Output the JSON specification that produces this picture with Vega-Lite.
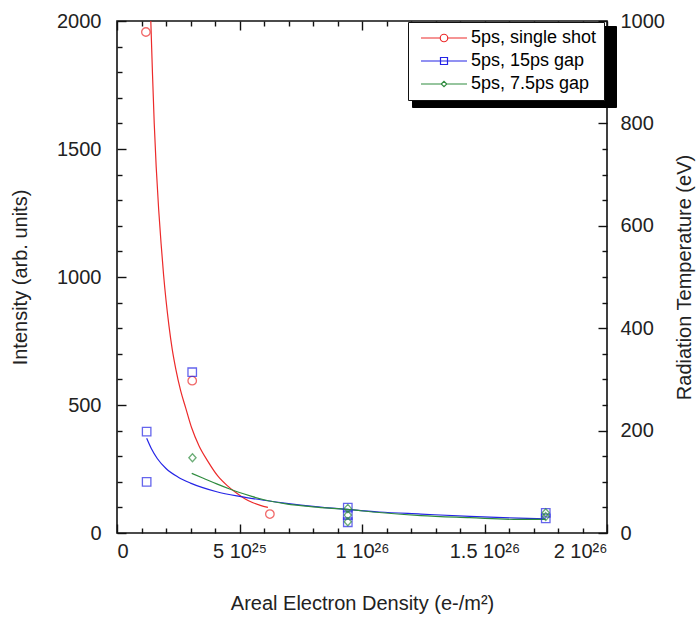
{
  "$schema": "https://vega.github.io/schema/vega-lite/v6.json",
  "width": 490,
  "height": 512,
  "autosize": "none",
  "padding": {"left": 117, "top": 21, "right": 92, "bottom": 84},
  "background": "white",
  "config": {
    "view": {"stroke": "#111", "strokeWidth": 1.6},
    "font": "Liberation Sans",
    "axis": {"domain": false, "grid": false, "tickColor": "#111", "tickWidth": 1.4, "labelColor": "#222", "titleColor": "#222", "labelFont": "Liberation Sans", "titleFont": "Liberation Sans", "labelFontSize": 20, "titleFontSize": 20, "titleFontWeight": "normal"}
  },
  "datasets": {
    "curves": [
      {"series": "5ps, single shot", "x": 1.38e25, "y": 2000},
      {"series": "5ps, single shot", "x": 1.45e25, "y": 1790},
      {"series": "5ps, single shot", "x": 1.52e25, "y": 1600},
      {"series": "5ps, single shot", "x": 1.60e25, "y": 1430},
      {"series": "5ps, single shot", "x": 1.70e25, "y": 1265},
      {"series": "5ps, single shot", "x": 1.80e25, "y": 1130},
      {"series": "5ps, single shot", "x": 1.90e25, "y": 1010},
      {"series": "5ps, single shot", "x": 2.00e25, "y": 910},
      {"series": "5ps, single shot", "x": 2.12e25, "y": 810},
      {"series": "5ps, single shot", "x": 2.25e25, "y": 720},
      {"series": "5ps, single shot", "x": 2.40e25, "y": 640},
      {"series": "5ps, single shot", "x": 2.60e25, "y": 555},
      {"series": "5ps, single shot", "x": 2.80e25, "y": 490},
      {"series": "5ps, single shot", "x": 3.05e25, "y": 410},
      {"series": "5ps, single shot", "x": 3.35e25, "y": 340},
      {"series": "5ps, single shot", "x": 3.71e25, "y": 280},
      {"series": "5ps, single shot", "x": 4.12e25, "y": 222},
      {"series": "5ps, single shot", "x": 4.50e25, "y": 185},
      {"series": "5ps, single shot", "x": 4.89e25, "y": 155},
      {"series": "5ps, single shot", "x": 5.20e25, "y": 135},
      {"series": "5ps, single shot", "x": 5.55e25, "y": 118},
      {"series": "5ps, single shot", "x": 5.85e25, "y": 108},
      {"series": "5ps, single shot", "x": 6.16e25, "y": 100},
      {"series": "5ps, 15ps gap", "x": 1.21e25, "y": 370},
      {"series": "5ps, 15ps gap", "x": 1.40e25, "y": 330},
      {"series": "5ps, 15ps gap", "x": 1.65e25, "y": 290},
      {"series": "5ps, 15ps gap", "x": 2.0e25, "y": 252},
      {"series": "5ps, 15ps gap", "x": 2.5e25, "y": 218},
      {"series": "5ps, 15ps gap", "x": 3.0e25, "y": 195},
      {"series": "5ps, 15ps gap", "x": 3.5e25, "y": 177},
      {"series": "5ps, 15ps gap", "x": 4.07e25, "y": 161},
      {"series": "5ps, 15ps gap", "x": 5.0e25, "y": 143},
      {"series": "5ps, 15ps gap", "x": 6.0e25, "y": 128},
      {"series": "5ps, 15ps gap", "x": 7.0e25, "y": 115},
      {"series": "5ps, 15ps gap", "x": 8.0e25, "y": 104},
      {"series": "5ps, 15ps gap", "x": 9.4e25, "y": 92},
      {"series": "5ps, 15ps gap", "x": 10.7e25, "y": 82},
      {"series": "5ps, 15ps gap", "x": 12.4e25, "y": 74},
      {"series": "5ps, 15ps gap", "x": 14.4e25, "y": 65},
      {"series": "5ps, 15ps gap", "x": 16.4e25, "y": 58},
      {"series": "5ps, 15ps gap", "x": 17.5e25, "y": 55},
      {"series": "5ps, 7.5ps gap", "x": 3.05e25, "y": 233},
      {"series": "5ps, 7.5ps gap", "x": 3.5e25, "y": 215},
      {"series": "5ps, 7.5ps gap", "x": 4.07e25, "y": 192},
      {"series": "5ps, 7.5ps gap", "x": 4.6e25, "y": 172},
      {"series": "5ps, 7.5ps gap", "x": 5.0e25, "y": 158},
      {"series": "5ps, 7.5ps gap", "x": 5.5e25, "y": 143},
      {"series": "5ps, 7.5ps gap", "x": 6.0e25, "y": 130},
      {"series": "5ps, 7.5ps gap", "x": 6.9e25, "y": 114},
      {"series": "5ps, 7.5ps gap", "x": 8.0e25, "y": 102},
      {"series": "5ps, 7.5ps gap", "x": 9.4e25, "y": 92},
      {"series": "5ps, 7.5ps gap", "x": 10.7e25, "y": 80},
      {"series": "5ps, 7.5ps gap", "x": 12.4e25, "y": 68},
      {"series": "5ps, 7.5ps gap", "x": 14.4e25, "y": 60},
      {"series": "5ps, 7.5ps gap", "x": 16.4e25, "y": 53},
      {"series": "5ps, 7.5ps gap", "x": 17.5e25, "y": 53}
    ],
    "points": [
      {"series": "5ps, single shot", "x": 1.18e25, "y": 1957},
      {"series": "5ps, single shot", "x": 3.07e25, "y": 595},
      {"series": "5ps, single shot", "x": 6.24e25, "y": 74},
      {"series": "5ps, 15ps gap", "x": 1.21e25, "y": 396},
      {"series": "5ps, 15ps gap", "x": 1.21e25, "y": 200},
      {"series": "5ps, 15ps gap", "x": 3.07e25, "y": 628},
      {"series": "5ps, 15ps gap", "x": 9.42e25, "y": 99},
      {"series": "5ps, 15ps gap", "x": 9.42e25, "y": 70},
      {"series": "5ps, 15ps gap", "x": 9.42e25, "y": 42},
      {"series": "5ps, 15ps gap", "x": 17.5e25, "y": 79},
      {"series": "5ps, 15ps gap", "x": 17.5e25, "y": 57},
      {"series": "5ps, 7.5ps gap", "x": 3.08e25, "y": 294},
      {"series": "5ps, 7.5ps gap", "x": 9.42e25, "y": 96},
      {"series": "5ps, 7.5ps gap", "x": 9.42e25, "y": 70},
      {"series": "5ps, 7.5ps gap", "x": 9.42e25, "y": 44},
      {"series": "5ps, 7.5ps gap", "x": 17.5e25, "y": 79},
      {"series": "5ps, 7.5ps gap", "x": 17.5e25, "y": 64}
    ],
    "legendrows": [
      {"series": "5ps, single shot", "x": 0, "y": 0},
      {"series": "5ps, 15ps gap", "x": 0, "y": 0},
      {"series": "5ps, 7.5ps gap", "x": 0, "y": 0}
    ],
    "temp": [
      {"t": 0, "x": 0},
      {"t": 1000, "x": 0}
    ]
  },
  "resolve": {
    "scale": {"y": "independent", "color": "independent", "shape": "independent"},
    "axis": {"x": "independent", "y": "independent"}
  },
  "layer": [
    {
      "data": {"name": "curves"},
      "mark": {"type": "line", "strokeWidth": 1.2, "clip": true, "interpolate": "monotone"},
      "encoding": {
        "x": {"field": "x", "type": "quantitative", "scale": {"domain": [0, 2e26], "nice": false, "zero": false},
          "axis": {"orient": "bottom", "values": [0, 5e25, 1e26, 1.5e26, 2e26], "ticks": false, "labelPadding": 8, "labelBaseline": "top",
            "labelExpr": "datum.value < 1e24 ? '0' : datum.value < 6e25 ? '5 10²⁵' : datum.value < 1.2e26 ? '1 10²⁶' : datum.value < 1.7e26 ? '1.5 10²⁶' : '2 10²⁶'",
            "title": "Areal Electron Density (e-/m²)", "titlePadding": 32}},
        "y": {"field": "y", "type": "quantitative", "scale": {"domain": [0, 2000], "nice": false},
          "axis": {"orient": "left", "values": [0, 500, 1000, 1500, 2000], "format": "d", "ticks": false, "labelPadding": 16, "title": "Intensity (arb. units)", "titlePadding": 26}},
        "color": {"field": "series", "type": "nominal", "scale": {"domain": ["5ps, single shot", "5ps, 15ps gap", "5ps, 7.5ps gap"], "range": ["#ec2a2a", "#2424e6", "#2e8b3e"]}, "legend": null},
        "detail": {"field": "series"}
      }
    },
    {
      "data": {"name": "points"},
      "mark": {"type": "point", "filled": false, "strokeWidth": 1.3, "size": 72},
      "encoding": {
        "x": {"field": "x", "type": "quantitative",
          "axis": {"orient": "top", "offset": -512, "values": [0, 5e25, 1e26, 1.5e26, 2e26], "tickSize": 9, "labels": false, "title": null}},
        "y": {"field": "y", "type": "quantitative", "scale": {"domain": [0, 2000], "nice": false},
          "axis": {"orient": "right", "offset": -490, "values": [0, 500, 1000, 1500, 2000], "tickSize": 9, "labels": false, "title": null}},
        "color": {"field": "series", "type": "nominal", "scale": {"domain": ["5ps, single shot", "5ps, 15ps gap", "5ps, 7.5ps gap"], "range": ["#ec2a2a", "#2424e6", "#2e8b3e"]}, "legend": null},
        "shape": {"field": "series", "type": "nominal", "scale": {"domain": ["5ps, single shot", "5ps, 15ps gap", "5ps, 7.5ps gap"], "range": ["circle", "square", "M0,-0.95L0.85,0L0,0.95L-0.85,0Z"]}, "legend": null}
      }
    },
    {
      "data": {"name": "legendrows"},
      "mark": {"type": "point", "opacity": 0},
      "encoding": {
        "x": {"field": "x", "type": "quantitative",
          "axis": {"orient": "top", "offset": -512, "values": [1e25, 2e25, 3e25, 4e25, 6e25, 7e25, 8e25, 9e25, 1.1e26, 1.2e26, 1.3e26, 1.4e26, 1.6e26, 1.7e26, 1.8e26, 1.9e26], "tickSize": 5, "labels": false, "title": null}},
        "y": {"field": "y", "type": "quantitative", "scale": {"domain": [0, 2000], "nice": false},
          "axis": {"orient": "right", "offset": -490, "values": [100, 200, 300, 400, 600, 700, 800, 900, 1100, 1200, 1300, 1400, 1600, 1700, 1800, 1900], "tickSize": 5, "labels": false, "title": null}},
        "color": {"field": "series", "type": "nominal", "scale": {"domain": ["5ps, single shot", "5ps, 15ps gap", "5ps, 7.5ps gap"], "range": ["black", "black", "black"]},
          "legend": {"orient": "none", "legendX": 295, "legendY": 5, "title": null, "strokeColor": "black", "fillColor": "black", "padding": 7, "rowPadding": 5,
            "labelExpr": "''", "labelFontSize": 1, "labelOffset": 170, "symbolSize": 324, "symbolOpacity": 0}}
      }
    },
    {
      "data": {"name": "legendrows"},
      "mark": {"type": "point", "opacity": 0},
      "encoding": {
        "x": {"field": "x", "type": "quantitative",
          "axis": {"orient": "bottom", "offset": -512, "values": [0, 5e25, 1e26, 1.5e26, 2e26], "tickSize": 9, "labels": false, "title": null}},
        "y": {"field": "y", "type": "quantitative", "scale": {"domain": [0, 2000], "nice": false}, "axis": null},
        "color": {"field": "series", "type": "nominal", "scale": {"domain": ["5ps, single shot", "5ps, 15ps gap", "5ps, 7.5ps gap"], "range": ["#ec2a2a", "#2424e6", "#2e8b3e"]},
          "legend": {"orient": "none", "legendX": 291, "legendY": 1, "title": null, "strokeColor": "#111", "fillColor": "white", "padding": 7, "rowPadding": 5,
            "labelFontSize": 18, "labelFont": "Liberation Sans", "labelOffset": 38, "symbolSize": 100, "symbolStrokeWidth": 1.2, "symbolOpacity": 1, "symbolFillColor": "transparent",
            "encode": {"labels": {"update": {"fill": {"signal": "datum.value == '5ps, single shot' ? '#ec2a2a' : datum.value == '5ps, 15ps gap' ? '#2424e6' : '#2e8b3e'"}}}}}},
        "shape": {"field": "series", "type": "nominal", "scale": {"domain": ["5ps, single shot", "5ps, 15ps gap", "5ps, 7.5ps gap"],
          "range": ["M-0.6,0H3.25M4.75,0H8.6M3.25,0A0.75,0.75 0 1,1 4.75,0A0.75,0.75 0 1,1 3.25,0Z", "M-0.6,0H8.6M3.3,-0.7H4.7V0.7H3.3Z", "M-0.6,0H3.45M4.55,0H8.6M3.45,0L4,-0.55L4.55,0L4,0.55Z"]}}
      }
    },
    {
      "data": {"name": "legendrows"},
      "mark": {"type": "point", "opacity": 0},
      "encoding": {
        "x": {"field": "x", "type": "quantitative",
          "axis": {"orient": "bottom", "offset": -512, "values": [1e25, 2e25, 3e25, 4e25, 6e25, 7e25, 8e25, 9e25, 1.1e26, 1.2e26, 1.3e26, 1.4e26, 1.6e26, 1.7e26, 1.8e26, 1.9e26], "tickSize": 5, "labels": false, "title": null}},
        "y": {"field": "y", "type": "quantitative", "scale": {"domain": [0, 2000], "nice": false}, "axis": null}
      }
    },
    {
      "data": {"name": "temp"},
      "mark": {"type": "point", "opacity": 0},
      "encoding": {
        "y": {"field": "t", "type": "quantitative", "scale": {"domain": [0, 1000], "nice": false},
          "axis": {"orient": "right", "values": [0, 200, 400, 600, 800, 1000], "format": "d", "ticks": false, "labelPadding": 13, "title": "Radiation Temperature (eV)", "titleAngle": 270, "titlePadding": 30}}
      }
    },
    {
      "data": {"name": "temp"},
      "mark": {"type": "point", "opacity": 0},
      "encoding": {
        "y": {"field": "t", "type": "quantitative", "scale": {"domain": [0, 1000], "nice": false},
          "axis": {"orient": "left", "offset": -490, "values": [0, 200, 400, 600, 800, 1000], "tickSize": 9, "labels": false, "title": null}}
      }
    },
    {
      "data": {"name": "temp"},
      "mark": {"type": "point", "opacity": 0},
      "encoding": {
        "y": {"field": "t", "type": "quantitative", "scale": {"domain": [0, 1000], "nice": false},
          "axis": {"orient": "left", "offset": -490, "values": [50, 100, 150, 250, 300, 350, 450, 500, 550, 650, 700, 750, 850, 900, 950], "tickSize": 5, "labels": false, "title": null}}
      }
    }
  ]
}
